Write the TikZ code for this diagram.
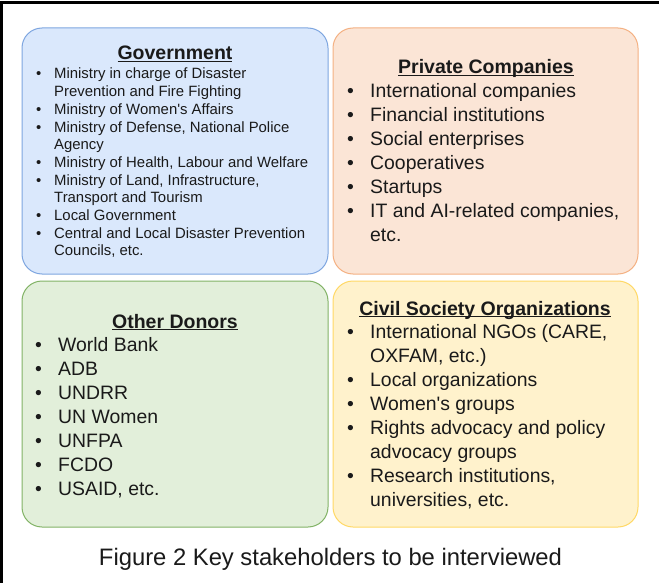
\documentclass[tikz,border=0pt]{standalone}
\usepackage{fontspec}
\setmainfont{Liberation Sans}[Ligatures=TeXOff]
\definecolor{govfill}{HTML}{DAE8FC}
\definecolor{govline}{HTML}{7EA6E0}
\definecolor{prifill}{HTML}{FBE5D6}
\definecolor{priline}{HTML}{F4B183}
\definecolor{othfill}{HTML}{E2EFDA}
\definecolor{othline}{HTML}{82B366}
\definecolor{csofill}{HTML}{FFF2CC}
\definecolor{csoline}{HTML}{FFD966}
\definecolor{txt}{HTML}{1A1A1A}
\newlength\bw
\newcommand\bl{\makebox[\bw][l]{\textbullet}}
\newcommand\ct{\hspace*{\bw}}
\newcommand\myul[1]{\setbox0\hbox{#1}\rlap{\rule[-1.8pt]{\wd0}{0.9pt}}\box0}
\tikzset{
  panel/.style={draw=#1line, fill=#1fill, line width=1pt, rounded corners=20pt},
  ttl/.style={anchor=base, inner sep=0pt, text=txt, font=\fontsize{19.5}{23}\selectfont\bfseries},
  smalllist/.style={anchor=base west, inner sep=0pt, text=txt, font=\fontsize{14.9}{17.7}\selectfont},
  biglist/.style={anchor=base west, inner sep=0pt, text=txt, font=\fontsize{19.4}{24}\selectfont},
}
\begin{document}
\begin{tikzpicture}[x=1pt,y=-1pt]
\useasboundingbox (0,0) rectangle (659,583);
\fill[white] (0,0) rectangle (659,583);
\draw[line width=2.6pt] (1.3,583) -- (1.3,2.6) -- (659,2.6);

% panels
\path[panel=gov] (22,28) rectangle (328,274);
\path[panel=pri] (333,28) rectangle (638,274);
\path[panel=oth] (22,281) rectangle (328,527);
\path[panel=cso] (333,281) rectangle (638,527);

% Government
\node[ttl] (govt) at (175,60) {\myul{Government}};
\node[smalllist] (govl) at (36,79) {\setlength\bw{18pt}\parbox[t]{300pt}{\raggedright
\bl Ministry in charge of Disaster\\
\ct Prevention and Fire Fighting\\
\bl Ministry of Women's Affairs\\
\bl Ministry of Defense, National Police\\
\ct Agency\\
\bl Ministry of Health, Labour and Welfare\\
\bl Ministry of Land, Infrastructure,\\
\ct Transport and Tourism\\
\bl Local Government\\
\bl Central and Local Disaster Prevention\\
\ct Councils, etc.}};

% Private Companies
\node[ttl] (prit) at (486,74) {\myul{Private Companies}};
\node[biglist] (pril) at (347,98) {\setlength\bw{23pt}\parbox[t]{300pt}{\raggedright
\bl International companies\\
\bl Financial institutions\\
\bl Social enterprises\\
\bl Cooperatives\\
\bl Startups\\
\bl IT and AI-related companies,\\
\ct etc.}};

% Other Donors
\node[ttl] (otht) at (175,328) {\myul{Other Donors}};
\node[biglist] (othl) at (35,351) {\setlength\bw{23pt}\parbox[t]{300pt}{\raggedright
\bl World Bank\\
\bl ADB\\
\bl UNDRR\\
\bl UN Women\\
\bl UNFPA\\
\bl FCDO\\
\bl USAID, etc.}};

% Civil Society Organizations
\node[ttl] (csot) at (485,315) {\myul{Civil Society Organizations}};
\node[biglist] (csol) at (347,338) {\setlength\bw{23pt}\parbox[t]{300pt}{\raggedright
\bl International NGOs (CARE,\\
\ct OXFAM, etc.)\\
\bl Local organizations\\
\bl Women's groups\\
\bl Rights advocacy and policy\\
\ct advocacy groups\\
\bl Research institutions,\\
\ct universities, etc.}};

% caption
\node[anchor=base, inner sep=0pt, text=txt, font=\fontsize{23.8}{28}\selectfont] (cap) at (330.5,565) {Figure 2 Key stakeholders to be interviewed};
\end{tikzpicture}
\end{document}
